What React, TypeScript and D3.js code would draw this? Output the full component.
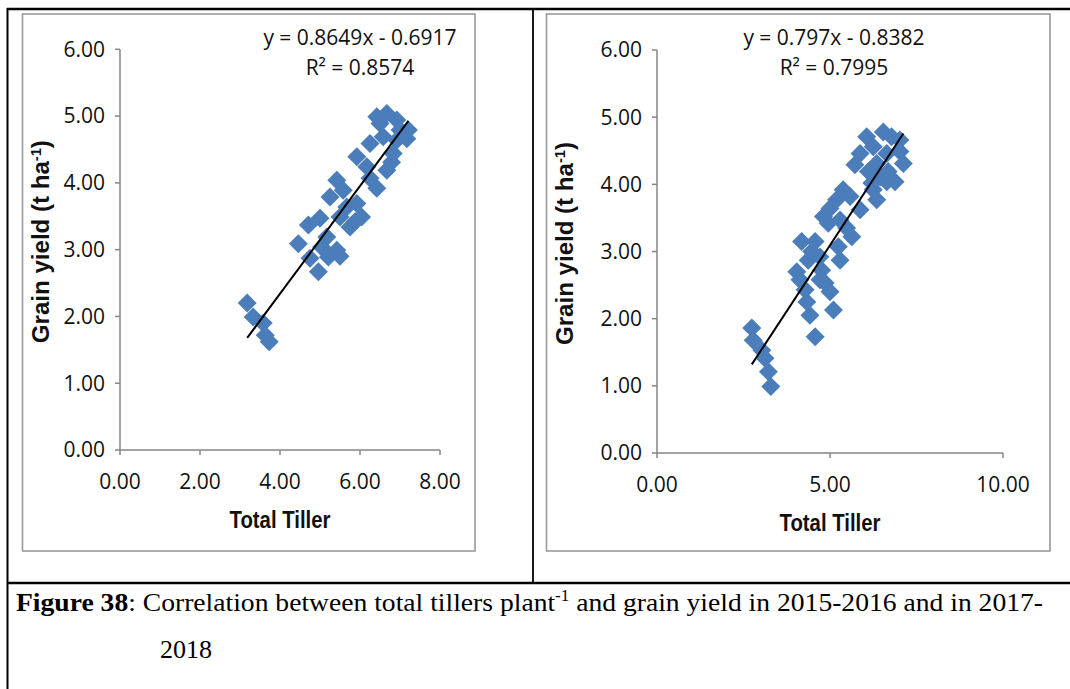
import React from "react";
import * as d3 from "d3";

// ---- Data ----
const leftTiller = [
  3.18, 3.33, 3.58, 3.63, 3.73,
  4.46, 4.71, 5.0, 4.75, 4.96, 5.17, 5.42, 5.21, 5.04, 5.5,
  5.42, 5.25, 5.58, 5.67, 5.92, 6.04, 5.75, 5.88, 5.5,
  5.92, 6.17, 6.42, 6.25, 6.25, 6.67, 6.79, 6.5, 6.67, 6.92, 6.92, 6.83, 7.17, 7.21, 7.0, 6.58, 6.42,
];
const leftYield = [
  2.2, 1.99, 1.9, 1.72, 1.62,
  3.09, 3.37, 3.47, 2.87, 2.67, 3.19, 2.99, 2.89, 3.04, 2.9,
  4.04, 3.79, 3.89, 3.64, 3.69, 3.49, 3.34, 3.42, 3.49,
  4.39, 4.24, 3.92, 4.07, 4.59, 4.19, 4.31, 4.89, 5.04, 4.94, 4.64, 4.44, 4.66, 4.79, 4.79, 4.69, 4.99,
];
const rightTiller = [
  2.74, 2.78, 3.03, 3.12, 3.22, 3.29,
  4.57, 4.42, 5.1, 4.33, 4.28, 4.04, 4.13, 4.71, 4.86, 5.0, 4.76, 4.37, 4.18, 4.57, 4.47, 4.71,
  5.29, 5.24, 5.63, 5.48, 4.81, 5.0, 5.19, 5.38, 5.58, 5.87, 4.95, 5.29,
  5.72, 5.87, 6.06, 6.11, 6.25, 6.54, 6.78, 7.02, 7.02, 7.12, 6.64, 6.35, 6.45, 6.25, 6.35, 6.68, 6.88, 6.64, 6.21,
];
const rightYield = [
  1.86, 1.68, 1.53, 1.41, 1.21, 0.99,
  1.73, 2.05, 2.13, 2.25, 2.43, 2.7, 2.58, 2.58, 2.53, 2.4, 2.72, 2.87, 3.15, 3.15, 3.0, 2.92,
  2.87, 3.07, 3.22, 3.35, 3.52, 3.64, 3.77, 3.92, 3.82, 3.62, 3.42, 3.47,
  4.29, 4.46, 4.71, 4.19, 4.56, 4.78, 4.71, 4.66, 4.49, 4.31, 4.46, 4.31, 4.11, 3.92, 3.77, 4.19, 4.04, 4.04, 4.02,
];
const leftXTicks = [0, 2, 4, 6, 8];
const rightXTicks = [0, 5, 10];
const yTicks = [0, 1, 2, 3, 4, 5, 6];
const leftEquation = ["y = 0.8649x - 0.6917", "R² = 0.8574"];
const rightEquation = ["y = 0.797x - 0.8382", "R² = 0.7995"];

const AXIS = "#868686";
const MARK = "#4a7dba";
const TICKFONT = "'Open Sans', 'Noto Sans', sans-serif";
const NARROW = "'Liberation Sans', Arial, sans-serif";
const SERIF = "'Times New Roman', 'Liberation Serif', Times, serif";

type PanelProps = {
  xs: number[];
  ys: number[];
  xMax: number;
  xTicks: number[];
  xRange: [number, number];
  yRange: [number, number];
  frame: [number, number, number, number];
  equation: string[];
  eqX: number;
  yLabelX: number;
};

function Panel(p: PanelProps) {
  const x = d3.scaleLinear().domain([0, p.xMax]).range(p.xRange);
  const y = d3.scaleLinear().domain([0, 6]).range(p.yRange);
  const pts = p.xs.map((v, i) => [v, p.ys[i]] as [number, number]);
  // least squares trend line
  const mx = d3.mean(p.xs)!;
  const my = d3.mean(p.ys)!;
  const sxy = d3.sum(pts, (d) => (d[0] - mx) * (d[1] - my));
  const sxx = d3.sum(pts, (d) => (d[0] - mx) ** 2);
  const b = sxy / sxx;
  const a = my - b * mx;
  const [x0, x1] = d3.extent(p.xs) as [number, number];
  const line = d3.line<number>().x((v) => x(v)).y((v) => y(a + b * v));
  const marker = d3.symbol(d3.symbolSquare, 180)()!;
  const [fx, fy, fw, fh] = p.frame;
  const axisY = y(0);
  const axisX = x(0);
  const midX = (p.xRange[0] + p.xRange[1]) / 2;
  const midY = (p.yRange[0] + p.yRange[1]) / 2 - 8;
  return (
    <g>
      <rect x={fx} y={fy} width={fw} height={fh} fill="white" stroke="#9a9a9a" strokeWidth={1.6} />
      {/* y axis */}
      <line x1={axisX} x2={axisX} y1={y(0)} y2={y(6)} stroke={AXIS} strokeWidth={1.5} />
      {yTicks.map((t) => (
        <g key={"y" + t}>
          <line x1={axisX - 5} x2={axisX} y1={y(t)} y2={y(t)} stroke={AXIS} strokeWidth={1.5} />
          <text x={axisX - 15} y={y(t)} dy="0.35em" textAnchor="end" fontFamily={TICKFONT} fontSize={21} fill="#111">
            {t.toFixed(2)}
          </text>
        </g>
      ))}
      {/* x axis */}
      <line x1={x(0)} x2={x(p.xMax)} y1={axisY} y2={axisY} stroke={AXIS} strokeWidth={1.5} />
      {p.xTicks.map((t) => (
        <g key={"x" + t}>
          <line x1={x(t)} x2={x(t)} y1={axisY} y2={axisY + 5} stroke={AXIS} strokeWidth={1.5} />
          <text x={x(t)} y={axisY + 39} textAnchor="middle" fontFamily={TICKFONT} fontSize={21} fill="#111">
            {t.toFixed(2)}
          </text>
        </g>
      ))}
      {/* markers */}
      {pts.map((d, i) => (
        <path key={i} d={marker} transform={`translate(${x(d[0])},${y(d[1])}) rotate(45)`} fill={MARK} />
      ))}
      <path d={line([x0, x1]) || ""} stroke="black" strokeWidth={2} fill="none" />
      {/* equation */}
      <text x={p.eqX} y={45} textAnchor="middle" fontFamily={TICKFONT} fontSize={21} fill="#111">
        {p.equation[0]}
      </text>
      <text x={p.eqX} y={75} textAnchor="middle" fontFamily={TICKFONT} fontSize={21} fill="#111">
        {p.equation[1]}
      </text>
      {/* titles */}
      <text x={midX} y={axisY + 78} textAnchor="middle" fontFamily={NARROW} fontWeight="bold" fontSize={23}
        textLength={101} lengthAdjust="spacingAndGlyphs" fill="#111">
        Total Tiller
      </text>
      <text transform={`translate(${p.yLabelX},${midY}) rotate(-90)`} textAnchor="middle" fontFamily={NARROW}
        fontWeight="bold" fontSize={23} fill="#111" textLength={203} lengthAdjust="spacingAndGlyphs">
        Grain yield (t ha
        <tspan fontSize={14} dy={-8}>-1</tspan>
        <tspan dy={8}>)</tspan>
      </text>
    </g>
  );
}

export default function App() {
  return (
    <svg width={1070} height={689} style={{ position: "absolute", left: 0, top: 0, background: "white" }}>
      <rect x={0} y={0} width={1070} height={689} fill="white" />
      <Panel xs={leftTiller} ys={leftYield} xMax={8} xTicks={leftXTicks} xRange={[120, 440]} yRange={[450, 49.3]}
        frame={[22.5, 14, 452.5, 537]} equation={leftEquation} eqX={360} yLabelX={49} />
      <Panel xs={rightTiller} ys={rightYield} xMax={10} xTicks={rightXTicks} xRange={[657, 1003]} yRange={[453, 50]}
        frame={[546.5, 14, 503.5, 537]} equation={rightEquation} eqX={834} yLabelX={573} />
      {/* table borders */}
      <line x1={7} x2={1070} y1={9} y2={9} stroke="black" strokeWidth={2.5} />
      <line x1={7.5} x2={7.5} y1={8} y2={689} stroke="black" strokeWidth={2} />
      <line x1={533} x2={533} y1={9} y2={583} stroke="black" strokeWidth={1.8} />
      <line x1={7} x2={1070} y1={583} y2={583} stroke="black" strokeWidth={2.5} />
      {/* caption */}
      <text x={16} y={611} fontFamily={SERIF} fontSize={26} fill="black" textLength={1027} lengthAdjust="spacingAndGlyphs">
        <tspan fontWeight="bold">Figure 38</tspan>
        <tspan>: Correlation between total tillers plant</tspan>
        <tspan fontSize={16} dy={-10}>-1</tspan>
        <tspan dy={10}> and grain yield in 2015-2016 and in 2017-</tspan>
      </text>
      <text x={160} y={658} fontFamily={SERIF} fontSize={26} fill="black">
        2018
      </text>
    </svg>
  );
}
